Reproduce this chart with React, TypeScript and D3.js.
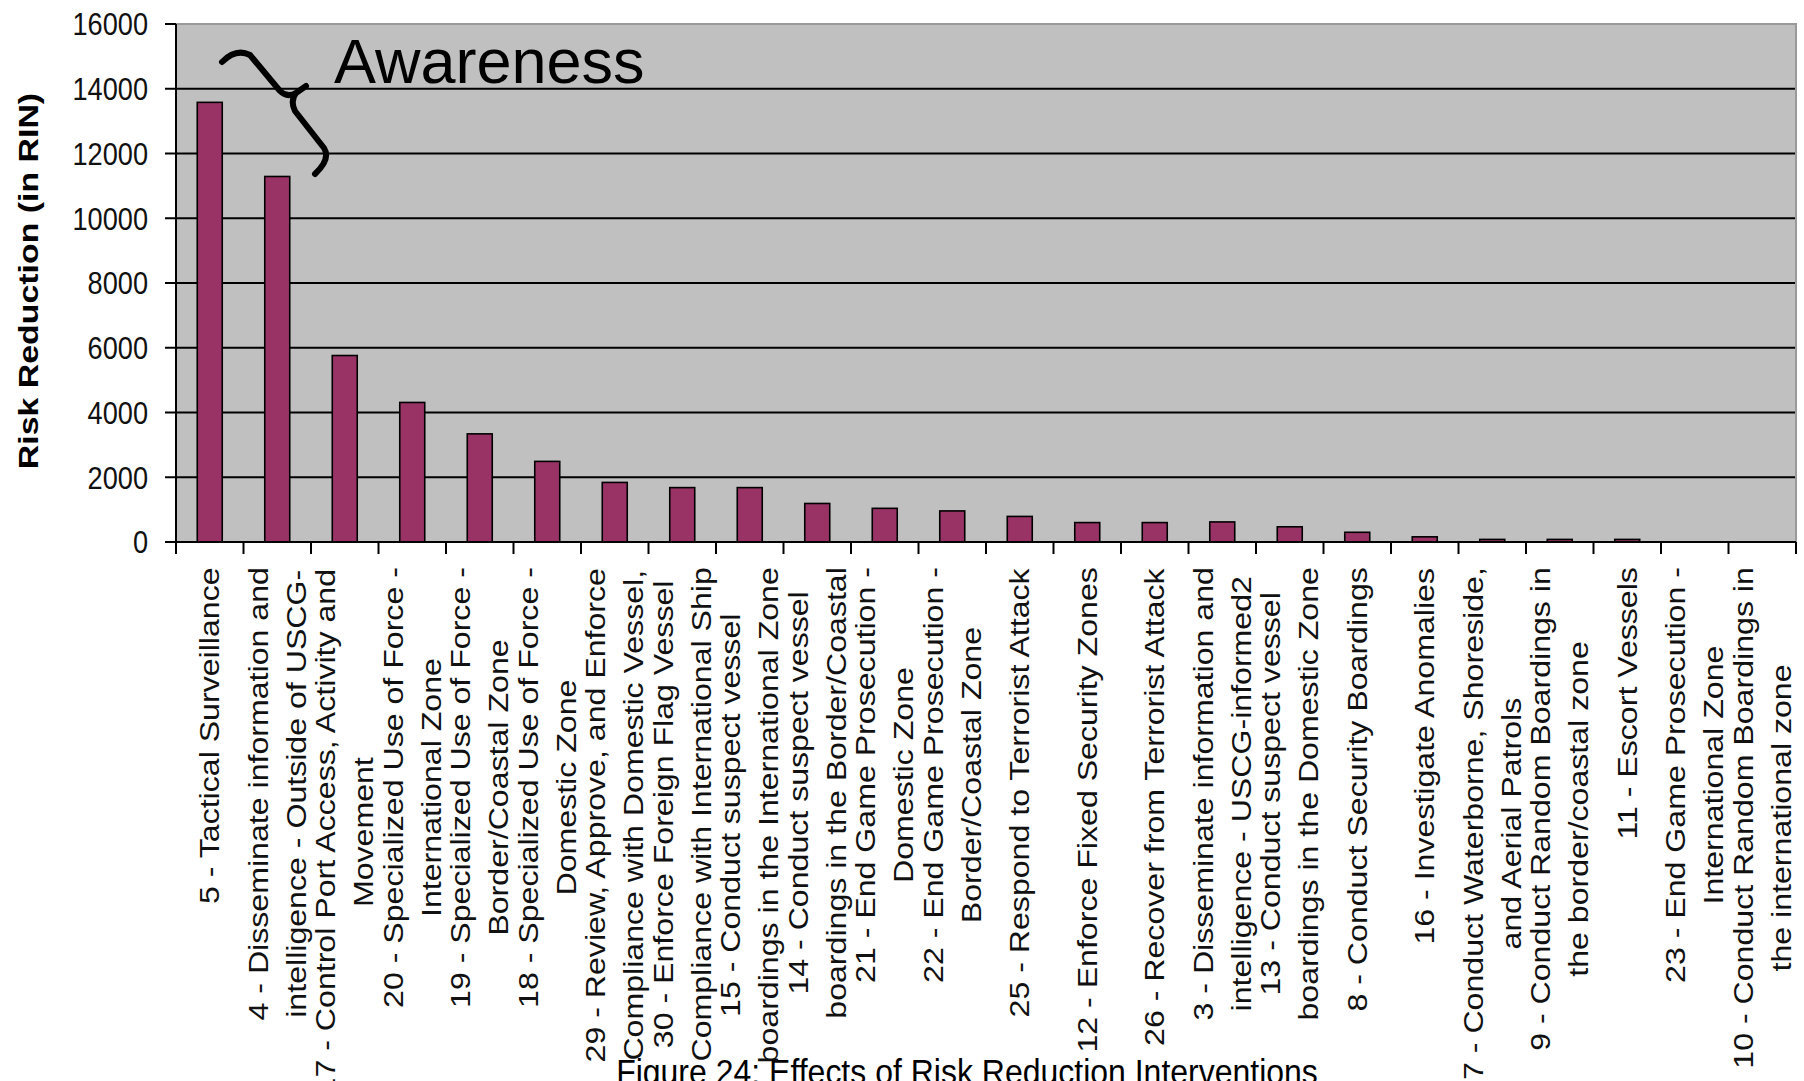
import React, { useMemo } from "react";
import * as d3 from "d3";

// ---- data ----
const categories: string[] = [
  "5 - Tactical Surveillance",
  "4 - Disseminate information and intelligence - Outside of USCG-",
  "17 - Control Port Access, Activity and Movement",
  "20 - Specialized Use of Force - International Zone",
  "19 - Specialized Use of Force - Border/Coastal Zone",
  "18 - Specialized Use of Force - Domestic Zone",
  "29 - Review, Approve, and Enforce Compliance with Domestic Vessel,",
  "30 - Enforce Foreign Flag Vessel Compliance with International Ship",
  "15 - Conduct suspect vessel boardings in the International Zone",
  "14 - Conduct suspect vessel boardings in the Border/Coastal",
  "21 - End Game Prosecution - Domestic Zone",
  "22 - End Game Prosecution - Border/Coastal Zone",
  "25 - Respond to Terrorist Attack",
  "12 - Enforce Fixed Security Zones",
  "26 - Recover from Terrorist Attack",
  "3 - Disseminate information and intelligence - USCG-informed2",
  "13 - Conduct suspect vessel boardings in the Domestic Zone",
  "8 - Conduct Security Boardings",
  "16 - Investigate Anomalies",
  "7 - Conduct Waterborne, Shoreside, and Aerial Patrols",
  "9 - Conduct Random Boardings in the border/coastal zone",
  "11 - Escort Vessels",
  "23 - End Game Prosecution - International Zone",
  "10 - Conduct Random Boardings in the international zone",
];

const labelLines: string[][] = [
  ["5 - Tactical Surveillance"],
  ["4 - Disseminate information and", "intelligence - Outside of USCG-"],
  ["17 - Control Port Access, Activity and", "Movement"],
  ["20 - Specialized Use of Force -", "International Zone"],
  ["19 - Specialized Use of Force -", "Border/Coastal Zone"],
  ["18 - Specialized Use of Force -", "Domestic Zone"],
  ["29 - Review, Approve, and Enforce", "Compliance with Domestic Vessel,"],
  ["30 - Enforce Foreign Flag Vessel", "Compliance with International Ship"],
  ["15 - Conduct suspect vessel", "boardings in the International Zone"],
  ["14 - Conduct suspect vessel", "boardings in the Border/Coastal"],
  ["21 - End Game Prosecution -", "Domestic Zone"],
  ["22 - End Game Prosecution -", "Border/Coastal Zone"],
  ["25 - Respond to Terrorist Attack"],
  ["12 - Enforce Fixed Security Zones"],
  ["26 - Recover from Terrorist Attack"],
  ["3 - Disseminate information and", "intelligence - USCG-informed2"],
  ["13 - Conduct suspect vessel", "boardings in the Domestic Zone"],
  ["8 - Conduct Security Boardings"],
  ["16 - Investigate Anomalies"],
  ["7 - Conduct Waterborne, Shoreside,", "and Aerial Patrols"],
  ["9 - Conduct Random Boardings in", "the border/coastal zone"],
  ["11 - Escort Vessels"],
  ["23 - End Game Prosecution -", "International Zone"],
  ["10 - Conduct Random Boardings in", "the international zone"],
];

const riskReduction: number[] = [
  13580, 11290, 5760, 4310, 3340, 2490, 1840, 1680, 1680, 1190, 1040, 960,
  790, 600, 600, 620, 470, 300, 160, 80, 80, 80, 0, 0,
];

const yTicks: number[] = [0, 2000, 4000, 6000, 8000, 10000, 12000, 14000, 16000];

const yTitle = "Risk Reduction (in RIN)";
const annotation = "Awareness";
const caption = "Figure 24:  Effects of Risk Reduction Interventions";

// ---- layout ----
const W = 1804;
const H = 1081;
const PLOT = { left: 176, right: 1796, top: 24, bottom: 542 };
const FONT = "'Liberation Sans', Arial, sans-serif";
const LABEL_SIZE = 27;
const LABEL_STRETCH = 1.19;
const LABEL_TOP = 567;
const LINE_GAP = 38;

function measure(text: string, font: string): number {
  const ctx = document.createElement("canvas").getContext("2d");
  if (!ctx) return text.length * 13;
  ctx.font = font;
  return ctx.measureText(text).width;
}

export default function App() {
  const x = d3
    .scaleBand<string>()
    .domain(categories)
    .range([PLOT.left, PLOT.right])
    .paddingInner(0.63)
    .paddingOuter(0.315);
  const y = d3.scaleLinear().domain([0, 16000]).range([PLOT.bottom, PLOT.top]);
  const step = x.step();
  const boundaries = d3.range(categories.length + 1).map((i) => PLOT.left + i * step);

  const maxLens = useMemo(
    () =>
      labelLines.map((lines) =>
        Math.max(...lines.map((l) => measure(l, `${LABEL_SIZE}px ${FONT}`)))
      ),
    []
  );

  return (
    <svg
      width={W}
      height={H}
      style={{ position: "absolute", left: 0, top: 0, background: "#fff" }}
      fontFamily={FONT}
    >
      {/* plot background */}
      <rect
        x={PLOT.left}
        y={PLOT.top}
        width={PLOT.right - PLOT.left}
        height={PLOT.bottom - PLOT.top}
        fill="#c0c0c0"
      />
      {/* gridlines */}
      {yTicks
        .filter((t) => t > 0 && t < 16000)
        .map((t) => (
          <line
            key={"g" + t}
            x1={PLOT.left}
            x2={PLOT.right}
            y1={y(t)}
            y2={y(t)}
            stroke="#000"
            strokeWidth={2}
          />
        ))}
      {/* top & right border */}
      <path
        d={`M${PLOT.left},${PLOT.top}H${PLOT.right}V${PLOT.bottom}`}
        fill="none"
        stroke="#9a9a9a"
        strokeWidth={2}
      />
      {/* bars */}
      {categories.map((c, i) => {
        const v = riskReduction[i];
        if (v <= 0) return null;
        return (
          <rect
            key={"b" + i}
            x={x(c)}
            y={y(v)}
            width={x.bandwidth()}
            height={y(0) - y(v)}
            fill="#993366"
            stroke="#000"
            strokeWidth={1.6}
          />
        );
      })}
      {/* axes */}
      <line x1={PLOT.left} x2={PLOT.left} y1={PLOT.top} y2={PLOT.bottom} stroke="#000" strokeWidth={2} />
      <line x1={PLOT.left} x2={PLOT.right} y1={PLOT.bottom} y2={PLOT.bottom} stroke="#000" strokeWidth={2} />
      {yTicks.map((t) => (
        <g key={"yt" + t}>
          <line x1={PLOT.left - 11} x2={PLOT.left} y1={y(t)} y2={y(t)} stroke="#000" strokeWidth={2} />
          <text
            transform={`translate(148,${y(t)}) scale(0.97,1.15)`}
            textAnchor="end"
            dominantBaseline="central"
            fontSize={28}
            fill="#111"
          >
            {t}
          </text>
        </g>
      ))}
      {boundaries.map((bx, i) => (
        <line key={"xt" + i} x1={bx} x2={bx} y1={PLOT.bottom} y2={PLOT.bottom + 12} stroke="#000" strokeWidth={2} />
      ))}
      {/* category labels */}
      {categories.map((c, i) => {
        const cx = (x(c) as number) + x.bandwidth() / 2;
        const lines = labelLines[i];
        const cy = LABEL_TOP + (maxLens[i] * LABEL_STRETCH) / 2;
        return (
          <g key={"l" + i} transform={`translate(${cx},${cy}) rotate(-90) scale(${LABEL_STRETCH},1)`}>
            {lines.map((ln, j) => (
              <text
                key={j}
                x={0}
                y={(j - (lines.length - 1) / 2) * LINE_GAP}
                textAnchor="middle"
                dominantBaseline="central"
                fontSize={LABEL_SIZE}
                fill="#111"
              >
                {ln}
              </text>
            ))}
          </g>
        );
      })}
      {/* y axis title */}
      <text
        transform={`translate(29,${(PLOT.top + PLOT.bottom) / 2 - 2}) rotate(-90) scale(1.21,1)`}
        textAnchor="middle"
        dominantBaseline="central"
        fontSize={28}
        fontWeight="bold"
        fill="#000"
      >
        {yTitle}
      </text>
      {/* annotation */}
      <text x={334} y={83} fontSize={63} fill="#000">
        {annotation}
      </text>
      <path
        d="M222,62 Q236,48 250,55 L280,91 Q287,98 296,93 L306,86 M296,93 Q290,101 295,111 L324,148 Q331,159 315,174"
        fill="none"
        stroke="#000"
        strokeWidth={6}
        strokeLinecap="round"
        strokeLinejoin="round"
      />
      {/* caption */}
      <text
        transform="translate(967,1084) scale(1,1.1)"
        textAnchor="middle"
        fontSize={32}
        fill="#000"
      >
        {caption}
      </text>
    </svg>
  );
}
